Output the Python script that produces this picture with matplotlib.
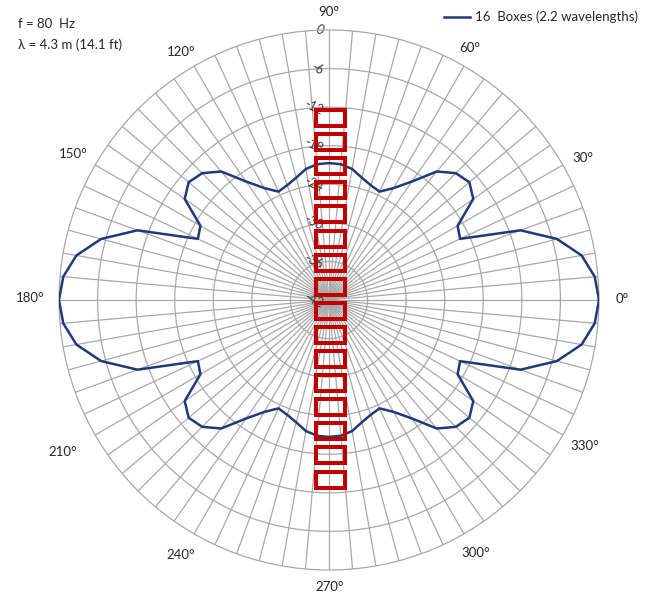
import numpy as np
import matplotlib
matplotlib.use("Agg")
import matplotlib.pyplot as plt
from matplotlib.patches import Rectangle
from matplotlib.lines import Line2D
from matplotlib.transforms import offset_copy

plt.rcParams["font.family"] = ["Lato", "DejaVu Sans"]

# ---- data -------------------------------------------------------------
angles_deg = np.arange(0, 360, 5)
gain_db = [
    0.0, -0.5, -2.1, -5.3, -10.3, -19.5, -18.9, -14.6, -13.5, -14.1,
    -15.9, -19.5, -21.9, -23.4, -23.0, -22.3, -21.3, -20.8, -20.7, -20.8,
    -21.3, -22.3, -23.0, -23.4, -21.9, -19.5, -15.9, -14.1, -13.5, -14.6,
    -18.9, -19.5, -10.3, -5.3, -2.1, -0.5, 0.0, -0.5, -2.1, -5.3,
    -10.3, -19.5, -18.9, -14.6, -13.5, -14.1, -15.9, -19.5, -21.9, -23.4,
    -23.0, -22.3, -21.3, -20.8, -20.7, -20.8, -21.3, -22.3, -23.0, -23.4,
    -21.9, -19.5, -15.9, -14.1, -13.5, -14.6, -18.9, -19.5, -10.3, -5.3,
    -2.1, -0.5,
]
radial_ticks = [0, -6, -12, -18, -24, -30, -36, -42]
angle_labels = ["0°", "30°", "60°", "90°", "120°", "150°",
                "180°", "210°", "240°", "270°", "300°", "330°"]
n_boxes = 16
series_name = "16  Boxes (2.2 wavelengths)"
info_lines = ["f = 80  Hz", "λ = 4.3 m (14.1 ft)"]

# ---- figure -------------------------------------------------------------
W, H = 661, 595
fig = plt.figure(figsize=(W / 100, H / 100), dpi=100)


def fx(px):
    return px / W


def fy(py):
    return 1 - py / H


cx, cy, R = 329, 300, 270
ax = fig.add_axes([fx(cx - R), fy(cy + R), 2 * R / W, 2 * R / H],
                  projection="polar")
ax.set_ylim(min(radial_ticks), max(radial_ticks))
ax.set_thetagrids(np.arange(0, 360, 5), labels=[])
ax.set_rgrids([t for t in radial_ticks if min(radial_ticks) < t < 0], labels=[])
ax.grid(True, color="#a8a8a8", lw=0.9)
ax.spines["polar"].set_color("#a8a8a8")
ax.spines["polar"].set_linewidth(0.9)
ax.tick_params(length=0, pad=0)

theta = np.deg2rad(np.append(angles_deg, angles_deg[0]))
gain = np.append(gain_db, gain_db[0])
ax.plot(theta, gain, color="#1f3a78", lw=1.8, zorder=3)

# radial scale labels along the 90° spoke
lbl_tr = offset_copy(ax.transData, fig=fig, x=-4, y=0, units="dots")
for v in radial_ticks:
    ax.text(np.pi / 2, v, f"{v}", transform=lbl_tr, ha="right", va="center",
            rotation=-25, fontsize=9, color="#3a3a3a", zorder=2)

# angle labels around the rim
label_pos = {
    "0°": (622, 299), "30°": (583, 158), "60°": (470, 48),
    "90°": (329, 12), "120°": (181, 52), "150°": (73, 154),
    "180°": (30, 298), "210°": (63, 452), "240°": (181, 555),
    "270°": (330, 587), "300°": (476, 553), "330°": (585, 446),
}
for lab in angle_labels:
    px, py = label_pos[lab]
    fig.text(fx(px), fy(py), lab, ha="center", va="center",
             fontsize=9.5, color="#262626")

# loudspeaker boxes of the line array
box_w, box_h, pitch, top = 29, 16, 24.1, 110
for i in range(n_boxes):
    y0 = top + i * pitch
    fig.add_artist(Rectangle((fx(cx - 14.5 + 1), fy(y0 + box_h)),
                             box_w / W, box_h / H,
                             transform=fig.transFigure, fill=False,
                             edgecolor="#c00000", lw=2.9, zorder=5))

# legend
fig.add_artist(Line2D([fx(444), fx(470)], [fy(17), fy(17)],
                      transform=fig.transFigure, color="#1f3a78", lw=1.8))
fig.text(fx(475), fy(17), series_name, ha="left", va="center",
         fontsize=9.5, color="#262626")

# frequency / wavelength annotation
for k, line in enumerate(info_lines):
    fig.text(fx(18), fy(24 + 21 * k), line, ha="left", va="center",
             fontsize=9.5, color="#262626")

fig.savefig("out.png", dpi=100)
